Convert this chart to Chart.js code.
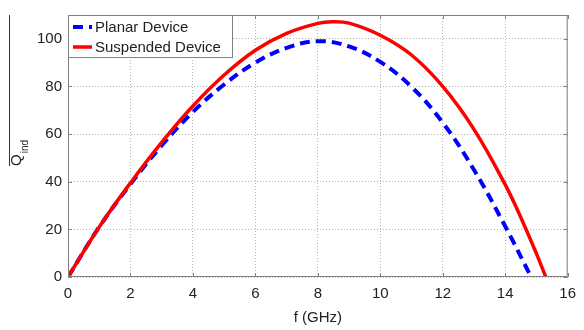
<!DOCTYPE html>
<html>
<head>
<meta charset="utf-8">
<script src="https://cdn.jsdelivr.net/npm/chart.js@4"></script>
<style>
    html, body { margin: 0; padding: 0; background: #fff; }
    #wrap { width: 584px; height: 330px; }
</style>
</head>
<body>
<div id="wrap"><canvas id="q-chart"></canvas></div>
<script>
// values
const planarFreq = [0, 1, 2, 3, 4, 5, 6, 7, 8, 9, 10, 11, 12, 13, 14, 14.83];
const planarQ = [0, 21, 39, 55.2, 69.3, 80.8, 90, 96.2, 99, 96.8, 90.3, 79.8, 64.8, 45, 21.3, 0];

const suspFreq = [0, 1, 2, 3, 4, 5, 6, 7, 8, 8.45, 9, 10, 11, 12, 13, 14, 14.5, 15, 15.3];
const suspQ = [0, 21, 39.5, 56.5, 71.8, 84.8, 95.2, 102.3, 106.5, 107.2, 106.6, 101.5, 93.2, 80, 62, 38.8, 25, 9.8, 0];

const xTicks = [0, 2, 4, 6, 8, 10, 12, 14, 16];
const yTicks = [0, 20, 40, 60, 80, 100];

const FONT = '"Liberation Sans", Arial, sans-serif';
const TEXT = '#222';

function toPoints(xs, ys) {
    return xs.map((x, i) => ({ x: x, y: ys[i] }));
}

// MATLAB-ish box, inward ticks, legend and the Q_ind label
const decorations = {
    id: 'decorations',
    afterDraw(chart) {
        const { ctx, chartArea: a, scales } = chart;
        ctx.save();

        // box
        ctx.strokeStyle = '#808080';
        ctx.lineWidth = 1;
        ctx.setLineDash([]);
        ctx.strokeRect(a.left + 0.5, a.top + 0.5, a.right - a.left - 1, a.bottom - a.top - 1);

        // inward tick marks on all four sides
        ctx.beginPath();
        xTicks.forEach(v => {
            const px = Math.round(scales.x.getPixelForValue(v)) + 0.5;
            ctx.moveTo(px, a.bottom); ctx.lineTo(px, a.bottom - 4);
            ctx.moveTo(px, a.top); ctx.lineTo(px, a.top + 4);
        });
        yTicks.forEach(v => {
            const py = Math.round(scales.y.getPixelForValue(v)) + 0.5;
            ctx.moveTo(a.left, py); ctx.lineTo(a.left + 4, py);
            ctx.moveTo(a.right, py); ctx.lineTo(a.right - 4, py);
        });
        ctx.stroke();

        // legend box in the upper left corner
        const lx = a.left, ly = a.top, lw = 164, lh = 42;
        ctx.fillStyle = '#fff';
        ctx.fillRect(lx, ly, lw, lh);
        ctx.strokeStyle = '#808080';
        ctx.strokeRect(lx + 0.5, ly + 0.5, lw, lh);

        const entries = [chart.data.datasets[0], chart.data.datasets[1]];
        ctx.font = '15px ' + FONT;
        ctx.textBaseline = 'middle';
        ctx.textAlign = 'left';
        entries.forEach((ds, i) => {
            const cy = ly + 12 + i * 20;
            ctx.strokeStyle = ds.borderColor;
            ctx.lineWidth = ds.borderWidth;
            ctx.setLineDash(ds.borderDash || []);
            ctx.beginPath();
            ctx.moveTo(lx + 5, cy);
            ctx.lineTo(lx + 24, cy);
            ctx.stroke();
            ctx.setLineDash([]);
            ctx.fillStyle = TEXT;
            ctx.fillText(ds.label, lx + 27, cy + 1);
        });

        // y axis label, Q with subscript "ind", rotated
        ctx.rotate(-Math.PI / 2);
        ctx.fillStyle = TEXT;
        ctx.textBaseline = 'alphabetic';
        ctx.font = '15px ' + FONT;
        const qStart = -166;
        ctx.fillText('Q', qStart, 21);
        const qw = ctx.measureText('Q').width;
        ctx.font = '10px ' + FONT;
        ctx.fillText('ind', qStart + qw + 1, 28);
        ctx.restore();

        // stray rule beside the label, as in the original figure
        ctx.save();
        ctx.strokeStyle = '#333';
        ctx.lineWidth = 1;
        ctx.beginPath();
        ctx.moveTo(9.5, a.top);
        ctx.lineTo(9.5, 166);
        ctx.stroke();
        ctx.restore();
    }
};

const gridStyle = { color: '#b4b4b4', lineWidth: 1, drawTicks: false, borderDash: [1, 2] };
const tickFont = { family: FONT, size: 15 };

new Chart(document.getElementById('q-chart'), {
    type: 'scatter',
    data: {
        datasets: [{
            label: 'Planar Device',
            data: toPoints(planarFreq, planarQ),
            showLine: true,
            borderColor: '#0000ff',
            borderWidth: 4,
            borderDash: [10, 6],
            pointRadius: 0,
            tension: 0.4,
            order: 1,
        }, {
            label: 'Suspended Device',
            data: toPoints(suspFreq, suspQ),
            showLine: true,
            borderColor: '#ff0000',
            borderWidth: 3.5,
            pointRadius: 0,
            tension: 0.4,
            order: 0,
        }]
    },
    options: {
        responsive: true,
        maintainAspectRatio: false,
        animation: false,
        layout: { padding: { top: 8, right: 9, left: 0, bottom: 0 } },
        plugins: {
            legend: { display: false },
            tooltip: { enabled: false }
        },
        scales: {
            x: {
                type: 'linear',
                min: 0,
                max: 16,
                afterFit: s => { s.height = 53; },
                afterBuildTicks: s => { s.ticks = xTicks.map(v => ({ value: v })); },
                grid: gridStyle,
                border: { display: false, dash: [1, 2] },
                ticks: { font: tickFont, color: TEXT, padding: 8, maxRotation: 0, autoSkip: false },
                title: {
                    display: true,
                    text: 'f (GHz)',
                    font: { family: FONT, size: 15 },
                    color: TEXT,
                    padding: { top: 0, bottom: 3 }
                }
            },
            y: {
                type: 'linear',
                min: 0,
                max: 110,
                afterFit: s => { s.width = 68; },
                afterBuildTicks: s => { s.ticks = yTicks.map(v => ({ value: v })); },
                grid: gridStyle,
                border: { display: false, dash: [1, 2] },
                ticks: { font: tickFont, color: TEXT, padding: 6 }
            }
        }
    },
    plugins: [decorations]
});
</script>
</body>
</html>
